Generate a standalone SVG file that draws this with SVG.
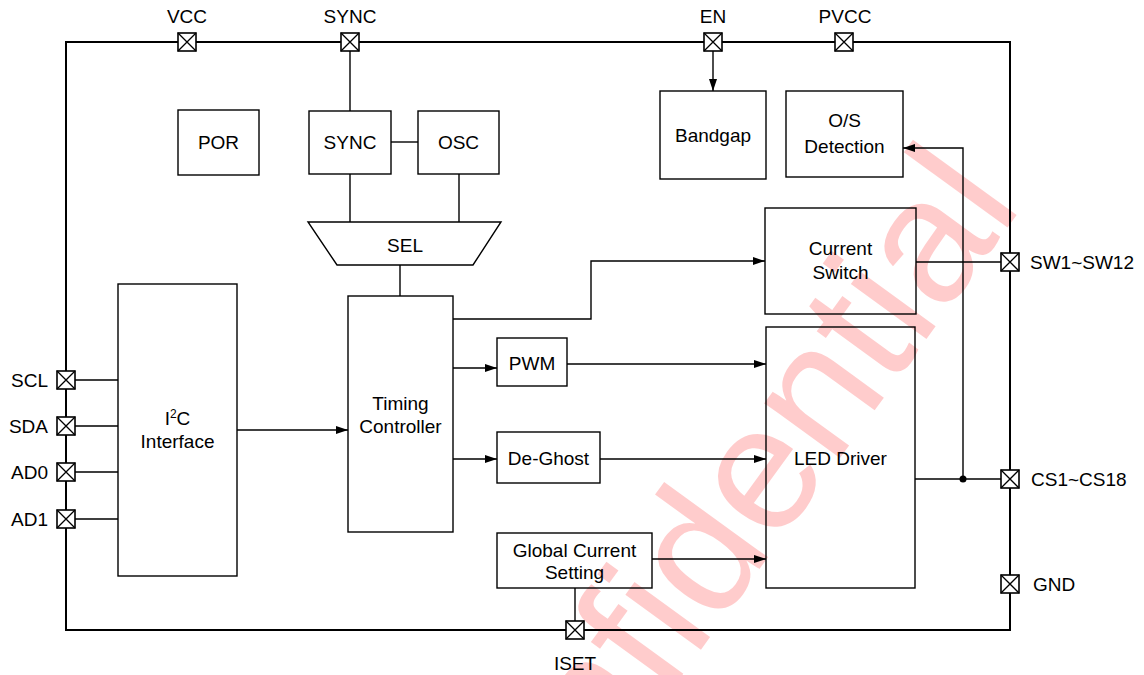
<svg xmlns="http://www.w3.org/2000/svg" width="1144" height="675" viewBox="0 0 1144 675">
<style>
.bx{fill:none;stroke:#000;stroke-width:1.4}
.ln{fill:none;stroke:#000;stroke-width:1.4}
.t{font-family:"Liberation Sans",Arial,sans-serif;font-size:19px;fill:#000;text-anchor:middle}
.l{font-family:"Liberation Sans",Arial,sans-serif;font-size:19px;fill:#000}
.e{text-anchor:end}
.wm{font-family:"Liberation Sans",Arial,sans-serif;font-size:177px;fill:#ff0000;fill-opacity:0.2}
</style>
<defs>
<marker id="arr" viewBox="0 0 12 8" refX="12" refY="4" markerWidth="12" markerHeight="8" markerUnits="userSpaceOnUse" orient="auto"><path d="M0,0L12,4L0,8z" fill="#000"/></marker>
<g id="pin"><rect x="-9" y="-9" width="18" height="18" fill="#fff" stroke="#000" stroke-width="1.6"/><path d="M-9,-9L9,9M9,-9L-9,9" stroke="#000" stroke-width="1.3"/></g>
</defs>
<rect width="1144" height="675" fill="#fff"/>
<text class="wm" transform="translate(665,699) rotate(-54)" x="-324.6">Confidential</text>
<rect id="border" x="66" y="42" width="944" height="588" fill="none" stroke="#000" stroke-width="2"/>
<g id="connectors">
<path class="ln" d="M350,51V111"/>
<path class="ln" d="M391,142H418"/>
<path class="ln" d="M350,174V222M459,174V222"/>
<path class="ln" d="M400,265V296"/>
<path class="ln" d="M713,51V91" marker-end="url(#arr)"/>
<path class="ln" d="M75,380H118M75,426H118M75,472H118M75,519H118"/>
<path class="ln" d="M237,430H348" marker-end="url(#arr)"/>
<path class="ln" d="M453,319H591V261H765" marker-end="url(#arr)"/>
<path class="ln" d="M453,368H497" marker-end="url(#arr)"/>
<path class="ln" d="M567,364H766" marker-end="url(#arr)"/>
<path class="ln" d="M453,459H497" marker-end="url(#arr)"/>
<path class="ln" d="M600,459H766" marker-end="url(#arr)"/>
<path class="ln" d="M652,559H766" marker-end="url(#arr)"/>
<path class="ln" d="M575,588V621"/>
<path class="ln" d="M916,262H1001"/>
<path class="ln" d="M915,479H1001"/>
<path class="ln" d="M963,479V148H903" marker-end="url(#arr)"/>
<circle cx="963" cy="479" r="3.5" fill="#000"/>
</g>
<g id="por"><rect class="bx" x="178" y="110" width="81" height="65"/><text class="t" x="218.5" y="149">POR</text></g>
<g id="sync"><rect class="bx" x="309" y="111" width="82" height="63"/><text class="t" x="350" y="149">SYNC</text></g>
<g id="osc"><rect class="bx" x="418" y="111" width="81" height="63"/><text class="t" x="458.5" y="149">OSC</text></g>
<g id="sel"><path class="bx" d="M308,222H501L473,265H337Z"/><text class="t" x="405" y="252">SEL</text></g>
<g id="bandgap"><rect class="bx" x="660" y="91" width="106" height="88"/><text class="t" x="713" y="142">Bandgap</text></g>
<g id="osdet"><rect class="bx" x="786" y="91" width="117" height="86"/><text class="t" x="844.5" y="127">O/S</text><text class="t" x="844.5" y="153">Detection</text></g>
<g id="cursw"><rect class="bx" x="765" y="208" width="151" height="106"/><text class="t" x="840.5" y="255">Current</text><text class="t" x="840.5" y="279">Switch</text></g>
<g id="led"><rect class="bx" x="766" y="327" width="149" height="261"/><text class="t" x="840.5" y="465">LED Driver</text></g>
<g id="i2c"><rect class="bx" x="118" y="284" width="119" height="292"/><text class="t" x="177.5" y="425">I<tspan font-size="12" dy="-7">2</tspan><tspan dy="7">C</tspan></text><text class="t" x="177.5" y="448">Interface</text></g>
<g id="timing"><rect class="bx" x="348" y="296" width="105" height="236"/><text class="t" x="400.5" y="410">Timing</text><text class="t" x="400.5" y="433">Controller</text></g>
<g id="pwm"><rect class="bx" x="497" y="338" width="70" height="48"/><text class="t" x="532" y="370">PWM</text></g>
<g id="deghost"><rect class="bx" x="497" y="432" width="103" height="51"/><text class="t" x="548.5" y="465">De-Ghost</text></g>
<g id="gcs"><rect class="bx" x="497" y="533" width="155" height="55"/><text class="t" x="574.5" y="557">Global Current</text><text class="t" x="574.5" y="579">Setting</text></g>
<g id="pin-vcc"><use href="#pin" x="187" y="42"/><text class="t" x="187" y="23">VCC</text></g>
<g id="pin-sync"><use href="#pin" x="350" y="42"/><text class="t" x="350" y="23">SYNC</text></g>
<g id="pin-en"><use href="#pin" x="713" y="42"/><text class="t" x="713" y="23">EN</text></g>
<g id="pin-pvcc"><use href="#pin" x="844" y="42"/><text class="t" x="845" y="23">PVCC</text></g>
<g id="pin-scl"><use href="#pin" x="66" y="380"/><text class="l e" x="48" y="387">SCL</text></g>
<g id="pin-sda"><use href="#pin" x="66" y="426"/><text class="l e" x="48" y="433">SDA</text></g>
<g id="pin-ad0"><use href="#pin" x="66" y="472"/><text class="l e" x="48" y="479">AD0</text></g>
<g id="pin-ad1"><use href="#pin" x="66" y="519"/><text class="l e" x="48" y="526">AD1</text></g>
<g id="pin-sw"><use href="#pin" x="1010" y="262"/><text class="l" x="1030" y="269">SW1~SW12</text></g>
<g id="pin-cs"><use href="#pin" x="1010" y="479"/><text class="l" x="1031" y="486">CS1~CS18</text></g>
<g id="pin-gnd"><use href="#pin" x="1010" y="584"/><text class="l" x="1033" y="591">GND</text></g>
<g id="pin-iset"><use href="#pin" x="575" y="630"/><text class="t" x="575" y="670">ISET</text></g>
</svg>
